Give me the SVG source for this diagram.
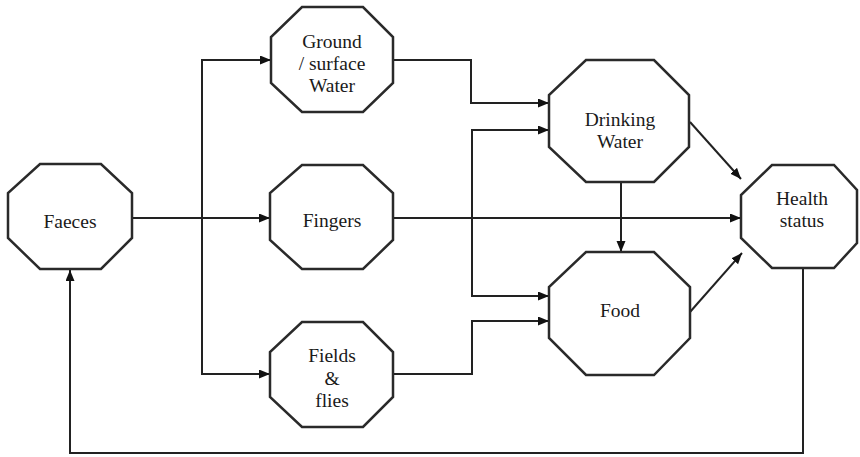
<svg xmlns="http://www.w3.org/2000/svg" width="860" height="457" viewBox="0 0 860 457">
<style>
.node polygon{fill:#fff;stroke:#2a2a2a;stroke-width:2.5;stroke-linejoin:miter}
.node text{font-size:19.5px;fill:#1a1a1a;text-anchor:middle}
#connectors path{fill:none;stroke:#222;stroke-width:2}
</style>
<defs>
<marker id="ah" markerUnits="userSpaceOnUse" markerWidth="12" markerHeight="10" refX="11" refY="4.5" orient="auto">
<path d="M0,0 L11,4.5 L0,9 z" fill="#111"/>
</marker>
</defs>
<rect width="860" height="457" fill="#fff"/>
<g id="connectors">
<path d="M132,218 H270" marker-end="url(#ah)"/>
<path d="M202,218 V60 H271" marker-end="url(#ah)"/>
<path d="M202,218 V374 H270" marker-end="url(#ah)"/>
<path d="M393,60 H471 V103 H549" marker-end="url(#ah)"/>
<path d="M393,374 H472 V321 H549" marker-end="url(#ah)"/>
<path d="M393,218 H741" marker-end="url(#ah)"/>
<path d="M472,218 V130 H549" marker-end="url(#ah)"/>
<path d="M472,218 V296 H549" marker-end="url(#ah)"/>
<path d="M621,182 V252" marker-end="url(#ah)"/>
<path d="M690,122 L741,179" marker-end="url(#ah)"/>
<path d="M690,312 L742,253" marker-end="url(#ah)"/>
<path d="M803,268 V453 H70 V270" marker-end="url(#ah)"/>
</g>
<g font-family="'Liberation Serif', 'Times New Roman', 'DejaVu Serif', serif">
<g id="faeces" class="node">
<polygon points="40,164 101,164 132,193 132,238 101,269 40,269 8,238 8,193"/>
<text x="70" y="228">Faeces</text>
</g>
<g id="ground" class="node">
<polygon points="302,7 363,7 393,37 393,83 363,112 302,112 271,83 271,37"/>
<text x="332" y="48">Ground</text>
<text x="332" y="70">/ surface</text>
<text x="332" y="92">Water</text>
</g>
<g id="fingers" class="node">
<polygon points="302,165 363,165 393,193 393,240 363,269 302,269 270,240 270,193"/>
<text x="332" y="227">Fingers</text>
</g>
<g id="fields" class="node">
<polygon points="302,322 363,322 393,352 393,397 363,427 302,427 270,397 270,352"/>
<text x="332" y="362">Fields</text>
<text x="332" y="385">&amp;</text>
<text x="332" y="407">flies</text>
</g>
<g id="drinking" class="node">
<polygon points="586,60 654,60 689,95 689,147 654,182 586,182 549,147 549,95"/>
<text x="620" y="126">Drinking</text>
<text x="620" y="148">Water</text>
</g>
<g id="food" class="node">
<polygon points="586,252 654,252 690,287 690,338 654,375 586,375 549,338 549,287"/>
<text x="620" y="317">Food</text>
</g>
<g id="health" class="node">
<polygon points="772,165 834,165 857,190 857,243 834,268 772,268 741,238 741,195"/>
<text x="802" y="205">Health</text>
<text x="802" y="227">status</text>
</g>
</g>
</svg>
